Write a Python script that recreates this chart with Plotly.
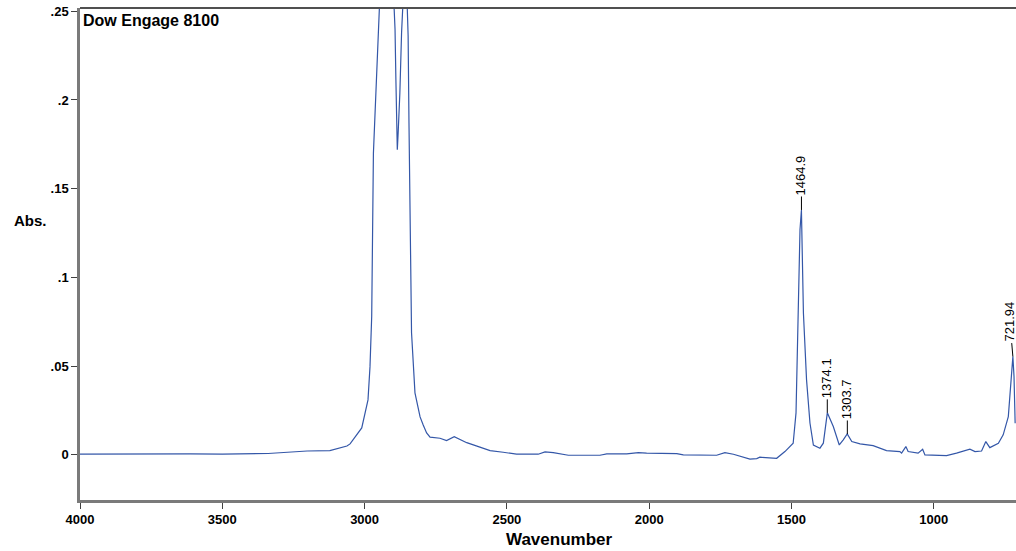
import plotly.graph_objects as go

# Spectrum readings (wavenumber, absorbance)
wavenumber = [4000, 3831, 3613, 3500, 3339, 3202, 3122, 3062, 3051, 3010, 2999, 2988,
              2981, 2975, 2969, 2958, 2952, 2948, 2920, 2897, 2896, 2893, 2890, 2885,
              2882, 2876, 2870, 2866, 2850, 2847, 2844, 2840, 2835, 2823, 2805, 2794,
              2782, 2770, 2735, 2712, 2685, 2641, 2595, 2559, 2513, 2466, 2390, 2366,
              2337, 2284, 2173, 2149, 2079, 2038, 2009, 1903, 1880, 1763, 1734, 1704,
              1646, 1622, 1611, 1576, 1552, 1523, 1494, 1484, 1476, 1470, 1465, 1458,
              1447, 1435, 1423, 1400, 1388, 1376, 1374, 1353, 1332, 1318, 1304, 1288,
              1259, 1213, 1166, 1119, 1113, 1098, 1090, 1055, 1039, 1031, 990, 955,
              920, 873, 855, 832, 817, 803, 773, 756, 738, 730, 722, 718, 714]
absorbance = [0.0004, 0.0006, 0.0006, 0.0004, 0.0008, 0.0022, 0.0024, 0.0050, 0.0062, 0.0152, 0.0237, 0.0310,
              0.0496, 0.0780, 0.1700, 0.2115, 0.2360, 0.2517, 0.2517, 0.2517, 0.2510, 0.2397, 0.2115, 0.1720,
              0.1817, 0.2040, 0.2380, 0.2517, 0.2517, 0.2360, 0.1870, 0.1170, 0.0688, 0.0350, 0.0214, 0.0169,
              0.0124, 0.0100, 0.0094, 0.0081, 0.0103, 0.0069, 0.0043, 0.0024, 0.0015, 0.0004, 0.0004, 0.0017,
              0.0013, -0.0002, -0.0002, 0.0006, 0.0006, 0.0013, 0.0010, 0.0007, 0.0000, -0.0002, 0.0013, 0.0004,
              -0.0024, -0.0021, -0.0013, -0.0019, -0.0019, 0.0019, 0.0066, 0.0237, 0.0800, 0.1270, 0.1380, 0.0800,
              0.0423, 0.0180, 0.0056, 0.0038, 0.0066, 0.0226, 0.0237, 0.0160, 0.0056, 0.0085, 0.0118, 0.0075,
              0.0062, 0.0052, 0.0024, 0.0019, 0.0010, 0.0047, 0.0019, 0.0010, 0.0032, 0.0000, 0.0000, -0.0004,
              0.0010, 0.0032, 0.0019, 0.0022, 0.0075, 0.0041, 0.0066, 0.0113, 0.0216, 0.0404, 0.0554, 0.0442, 0.0179]

# Peak labels
peak_labels = ["1464.9", "1374.1", "1303.7", "721.94"]
peak_wn = [1464.9, 1374.1, 1303.7, 721.94]
peak_abs = [0.138, 0.0237, 0.0118, 0.0554]

# Axis ticks
x_ticks = [4000, 3500, 3000, 2500, 2000, 1500, 1000]
y_ticks = [0, 0.05, 0.1, 0.15, 0.2, 0.25]
y_tick_text = ["0", ".05", ".1", ".15", ".2", ".25"]

FONT = "Liberation Sans, Arial, sans-serif"

fig = go.Figure()
fig.add_trace(go.Scatter(x=wavenumber, y=absorbance, mode="lines",
                         line=dict(color="#3457a8", width=1.2),
                         hoverinfo="skip", showlegend=False))

annotations = []
for i, (lab, xw, ya) in enumerate(zip(peak_labels, peak_wn, peak_abs)):
    last = i == len(peak_labels) - 1
    annotations.append(dict(x=xw, y=ya, xref="x", yref="y", text=lab, textangle=-90,
                            showarrow=True, arrowhead=0, arrowwidth=1, arrowcolor="#000000",
                            ax=-3 if last else 0, ay=-35, standoff=0,
                            font=dict(family=FONT, size=13, color="#000000")))

annotations.append(dict(x=0, y=1, xref="paper", yref="paper", text="<b>Dow Engage 8100</b>",
                        showarrow=False, xanchor="left", yanchor="top", xshift=1, yshift=-2,
                        font=dict(family=FONT, size=16, color="#000000")))
annotations.append(dict(x=-0.0726, y=0.569, xref="paper", yref="paper", text="<b>Abs.</b>",
                        showarrow=False, xanchor="left", yanchor="middle",
                        font=dict(family=FONT, size=15, color="#000000")))
annotations.append(dict(x=0.5128, y=-0.0813, xref="paper", yref="paper", text="<b>Wavenumber</b>",
                        showarrow=False, xanchor="center", yanchor="middle",
                        font=dict(family=FONT, size=17, color="#000000")))

fig.update_layout(
    width=1016, height=551,
    margin=dict(l=80, r=0, t=8, b=51),
    paper_bgcolor="white", plot_bgcolor="white",
    annotations=annotations,
    shapes=[dict(type="line", xref="paper", yref="paper", x0=0, x1=1, y0=1, y1=1,
                 line=dict(color="#505050", width=2))],
    xaxis=dict(range=[4000, 711], tickvals=x_ticks, ticks="outside", ticklen=6,
               tickcolor="#404040", tickwidth=1, showgrid=False, zeroline=False,
               showline=True, linecolor="#7a7a7a", linewidth=2.5,
               tickfont=dict(family=FONT, size=13, color="#000000", weight="bold")),
    yaxis=dict(range=[-0.0254, 0.2518], tickvals=y_ticks, ticktext=y_tick_text,
               ticks="outside", ticklen=6, tickcolor="#404040", tickwidth=1,
               showgrid=False, zeroline=False, showline=True, linecolor="#7a7a7a", linewidth=2.5,
               tickfont=dict(family=FONT, size=13, color="#000000", weight="bold")),
)

fig.write_html("out.html", config={"displayModeBar": False},
               post_script="document.body.style.margin='0px';document.body.style.overflow='hidden';")
